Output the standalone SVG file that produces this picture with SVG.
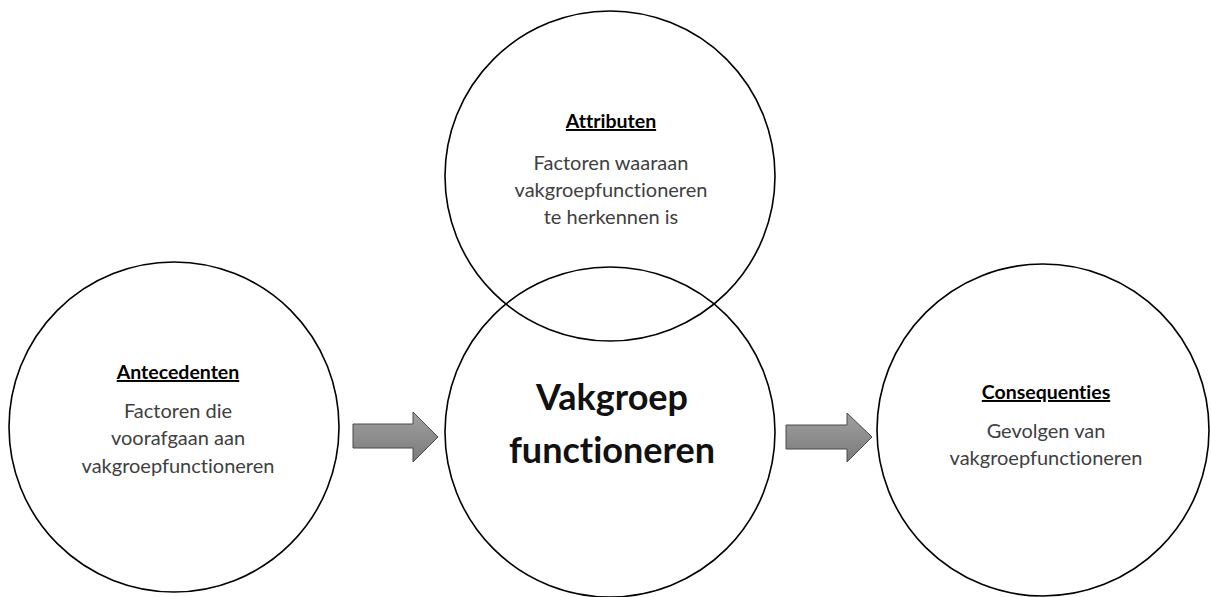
<svg xmlns="http://www.w3.org/2000/svg" width="1211" height="597" viewBox="0 0 1211 597">
<style>
text{font-variant-ligatures:none}
.c{fill:none;stroke:#000;stroke-width:1.6}
.t{font-family:Lato,"Liberation Sans",sans-serif;font-weight:bold;font-size:19.5px;fill:#000;text-anchor:middle;text-decoration:underline}
.b{font-family:Lato,"Liberation Sans",sans-serif;font-size:20px;fill:#404040;text-anchor:middle}
.m{font-family:Lato,"Liberation Sans",sans-serif;font-weight:bold;font-size:36px;fill:#111;text-anchor:middle}
.a{fill:url(#g);stroke:#4a4a4a;stroke-width:1}
</style>
<defs>
<linearGradient id="g" x1="0" y1="0" x2="0" y2="1">
<stop offset="0" stop-color="#a0a0a0"/>
<stop offset="1" stop-color="#7a7a7a"/>
</linearGradient>
</defs>
<rect width="1211" height="597" fill="#fff"/>
<g id="attributen">
<circle class="c" cx="610" cy="176" r="165"/>
<text class="t" x="611" y="128">Attributen</text>
<text class="b" x="611" y="170">Factoren waaraan</text>
<text class="b" x="611" y="197">vakgroepfunctioneren</text>
<text class="b" x="611" y="224">te herkennen is</text>
</g>
<g id="vakgroep">
<circle class="c" cx="610" cy="432" r="165"/>
<text class="m" x="612" y="410">Vakgroep</text>
<text class="m" x="612" y="463">functioneren</text>
</g>
<g id="antecedenten">
<circle class="c" cx="174" cy="427" r="165"/>
<text class="t" x="178" y="379">Antecedenten</text>
<text class="b" x="178" y="418">Factoren die</text>
<text class="b" x="178" y="445">voorafgaan aan</text>
<text class="b" x="178" y="473">vakgroepfunctioneren</text>
</g>
<g id="consequenties">
<circle class="c" cx="1043" cy="430" r="166"/>
<text class="t" x="1046" y="399">Consequenties</text>
<text class="b" x="1046" y="438">Gevolgen van</text>
<text class="b" x="1046" y="465">vakgroepfunctioneren</text>
</g>
<g id="connectors">
<path class="a" d="M353,424 H413 V412 L438,437 L413,462 V448 H353 Z"/>
<path class="a" d="M786,425 H847 V413 L872,437 L847,462 V449 H786 Z"/>
</g>
</svg>
